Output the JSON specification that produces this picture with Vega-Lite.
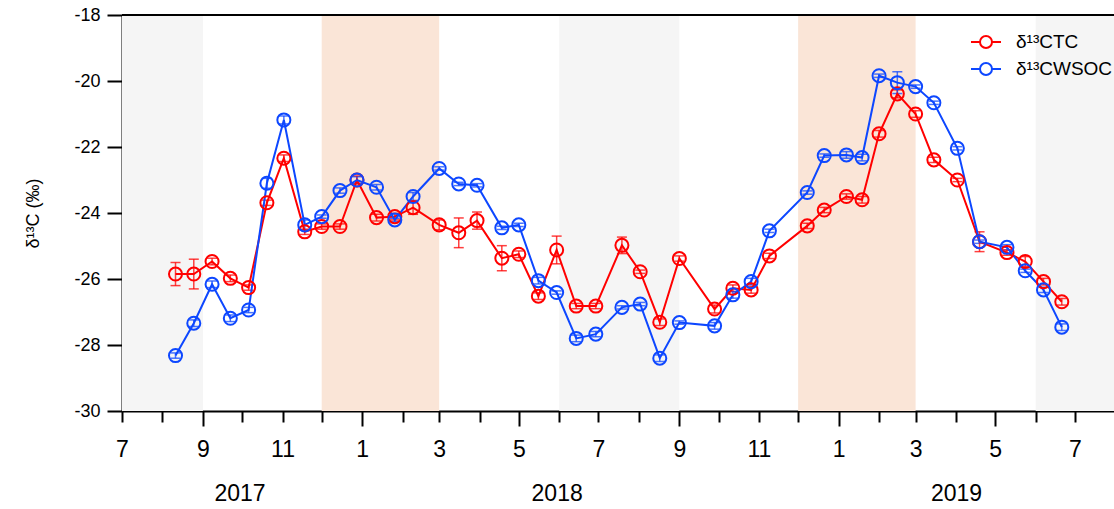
{
  "$schema": "https://vega.github.io/schema/vega-lite/v6.json",
  "width": 992,
  "height": 396,
  "autosize": {"type": "none"},
  "padding": {"left": 122, "top": 15, "right": 0, "bottom": 98},
  "config": {
    "font": "Liberation Sans",
    "view": {"stroke": null},
    "axis": {"domainColor": "black", "tickColor": "black", "labelColor": "black", "titleColor": "black", "grid": false, "domainWidth": 2, "tickWidth": 2}
  },
  "datasets": {
    "bands": [
      {"start": "2017-07-01", "end": "2017-09-01", "season": "summer"},
      {"start": "2017-12-01", "end": "2018-03-01", "season": "winter"},
      {"start": "2018-06-01", "end": "2018-09-01", "season": "summer"},
      {"start": "2018-12-01", "end": "2019-03-01", "season": "winter"},
      {"start": "2019-06-01", "end": "2019-07-31", "season": "summer"}
    ],
    "iso": [
      {"date": "2017-08-11", "series": "TC", "value": -25.85, "err": 0.35},
      {"date": "2017-08-25", "series": "TC", "value": -25.85, "err": 0.45},
      {"date": "2017-09-08", "series": "TC", "value": -25.47, "err": 0.1},
      {"date": "2017-09-22", "series": "TC", "value": -25.98, "err": 0.1},
      {"date": "2017-10-06", "series": "TC", "value": -26.26, "err": 0.08},
      {"date": "2017-10-20", "series": "TC", "value": -23.69, "err": 0.08},
      {"date": "2017-11-02", "series": "TC", "value": -22.34, "err": 0.1},
      {"date": "2017-11-18", "series": "TC", "value": -24.57, "err": 0.08},
      {"date": "2017-12-01", "series": "TC", "value": -24.41, "err": 0.08},
      {"date": "2017-12-15", "series": "TC", "value": -24.41, "err": 0.08},
      {"date": "2017-12-28", "series": "TC", "value": -23.0, "err": 0.12},
      {"date": "2018-01-12", "series": "TC", "value": -24.14, "err": 0.1},
      {"date": "2018-01-26", "series": "TC", "value": -24.11, "err": 0.1},
      {"date": "2018-02-09", "series": "TC", "value": -23.84, "err": 0.2},
      {"date": "2018-03-01", "series": "TC", "value": -24.36, "err": 0.15},
      {"date": "2018-03-16", "series": "TC", "value": -24.6, "err": 0.45},
      {"date": "2018-03-30", "series": "TC", "value": -24.23, "err": 0.26},
      {"date": "2018-04-18", "series": "TC", "value": -25.37, "err": 0.38},
      {"date": "2018-05-01", "series": "TC", "value": -25.25, "err": 0.1},
      {"date": "2018-05-16", "series": "TC", "value": -26.52, "err": 0.1},
      {"date": "2018-05-30", "series": "TC", "value": -25.12, "err": 0.42},
      {"date": "2018-06-14", "series": "TC", "value": -26.82, "err": 0.08},
      {"date": "2018-06-29", "series": "TC", "value": -26.82, "err": 0.08},
      {"date": "2018-07-19", "series": "TC", "value": -24.98, "err": 0.25},
      {"date": "2018-08-02", "series": "TC", "value": -25.78, "err": 0.05},
      {"date": "2018-08-17", "series": "TC", "value": -27.31, "err": 0.1},
      {"date": "2018-09-01", "series": "TC", "value": -25.38, "err": 0.08},
      {"date": "2018-09-28", "series": "TC", "value": -26.91, "err": 0.12},
      {"date": "2018-10-12", "series": "TC", "value": -26.28, "err": 0.1},
      {"date": "2018-10-26", "series": "TC", "value": -26.33, "err": 0.1},
      {"date": "2018-11-09", "series": "TC", "value": -25.3, "err": 0.08},
      {"date": "2018-12-08", "series": "TC", "value": -24.39, "err": 0.08},
      {"date": "2018-12-21", "series": "TC", "value": -23.91, "err": 0.08},
      {"date": "2019-01-07", "series": "TC", "value": -23.5, "err": 0.08},
      {"date": "2019-01-19", "series": "TC", "value": -23.6, "err": 0.1},
      {"date": "2019-02-01", "series": "TC", "value": -21.6, "err": 0.1},
      {"date": "2019-02-15", "series": "TC", "value": -20.39, "err": 0.12},
      {"date": "2019-03-01", "series": "TC", "value": -21.0, "err": 0.1},
      {"date": "2019-03-15", "series": "TC", "value": -22.39, "err": 0.08},
      {"date": "2019-04-02", "series": "TC", "value": -23.0, "err": 0.05},
      {"date": "2019-04-19", "series": "TC", "value": -24.87, "err": 0.3},
      {"date": "2019-05-10", "series": "TC", "value": -25.2, "err": 0.08},
      {"date": "2019-05-24", "series": "TC", "value": -25.47, "err": 0.15},
      {"date": "2019-06-07", "series": "TC", "value": -26.08, "err": 0.1},
      {"date": "2019-06-21", "series": "TC", "value": -26.69, "err": 0.1},
      {"date": "2017-08-11", "series": "WSOC", "value": -28.32, "err": 0.08},
      {"date": "2017-08-25", "series": "WSOC", "value": -27.34, "err": 0.1},
      {"date": "2017-09-08", "series": "WSOC", "value": -26.16, "err": 0.1},
      {"date": "2017-09-22", "series": "WSOC", "value": -27.19, "err": 0.1},
      {"date": "2017-10-06", "series": "WSOC", "value": -26.94, "err": 0.08},
      {"date": "2017-10-20", "series": "WSOC", "value": -23.1, "err": 0.15},
      {"date": "2017-11-02", "series": "WSOC", "value": -21.18, "err": 0.12},
      {"date": "2017-11-18", "series": "WSOC", "value": -24.36, "err": 0.15},
      {"date": "2017-12-01", "series": "WSOC", "value": -24.11, "err": 0.05},
      {"date": "2017-12-15", "series": "WSOC", "value": -23.32, "err": 0.08},
      {"date": "2017-12-28", "series": "WSOC", "value": -23.0, "err": 0.1},
      {"date": "2018-01-12", "series": "WSOC", "value": -23.22, "err": 0.08},
      {"date": "2018-01-26", "series": "WSOC", "value": -24.21, "err": 0.05},
      {"date": "2018-02-09", "series": "WSOC", "value": -23.5, "err": 0.12},
      {"date": "2018-03-01", "series": "WSOC", "value": -22.65, "err": 0.05},
      {"date": "2018-03-16", "series": "WSOC", "value": -23.12, "err": 0.05},
      {"date": "2018-03-30", "series": "WSOC", "value": -23.16, "err": 0.05},
      {"date": "2018-04-18", "series": "WSOC", "value": -24.45, "err": 0.05},
      {"date": "2018-05-01", "series": "WSOC", "value": -24.36, "err": 0.05},
      {"date": "2018-05-16", "series": "WSOC", "value": -26.05, "err": 0.1},
      {"date": "2018-05-30", "series": "WSOC", "value": -26.41, "err": 0.05},
      {"date": "2018-06-14", "series": "WSOC", "value": -27.8, "err": 0.1},
      {"date": "2018-06-29", "series": "WSOC", "value": -27.67, "err": 0.08},
      {"date": "2018-07-19", "series": "WSOC", "value": -26.86, "err": 0.05},
      {"date": "2018-08-02", "series": "WSOC", "value": -26.76, "err": 0.05},
      {"date": "2018-08-17", "series": "WSOC", "value": -28.4, "err": 0.1},
      {"date": "2018-09-01", "series": "WSOC", "value": -27.32, "err": 0.05},
      {"date": "2018-09-28", "series": "WSOC", "value": -27.42, "err": 0.1},
      {"date": "2018-10-12", "series": "WSOC", "value": -26.48, "err": 0.1},
      {"date": "2018-10-26", "series": "WSOC", "value": -26.08, "err": 0.1},
      {"date": "2018-11-09", "series": "WSOC", "value": -24.54, "err": 0.05},
      {"date": "2018-12-08", "series": "WSOC", "value": -23.38, "err": 0.05},
      {"date": "2018-12-21", "series": "WSOC", "value": -22.26, "err": 0.05},
      {"date": "2019-01-07", "series": "WSOC", "value": -22.24, "err": 0.1},
      {"date": "2019-01-19", "series": "WSOC", "value": -22.32, "err": 0.1},
      {"date": "2019-02-01", "series": "WSOC", "value": -19.84, "err": 0.05},
      {"date": "2019-02-15", "series": "WSOC", "value": -20.05, "err": 0.33},
      {"date": "2019-03-01", "series": "WSOC", "value": -20.17, "err": 0.05},
      {"date": "2019-03-15", "series": "WSOC", "value": -20.66, "err": 0.05},
      {"date": "2019-04-02", "series": "WSOC", "value": -22.04, "err": 0.05},
      {"date": "2019-04-19", "series": "WSOC", "value": -24.87, "err": 0.05},
      {"date": "2019-05-10", "series": "WSOC", "value": -25.04, "err": 0.08},
      {"date": "2019-05-24", "series": "WSOC", "value": -25.75, "err": 0.05},
      {"date": "2019-06-07", "series": "WSOC", "value": -26.33, "err": 0.08},
      {"date": "2019-06-21", "series": "WSOC", "value": -27.46, "err": 0.1}
    ]
  },
  "resolve": {"axis": {"x": "independent"}},
  "layer": [
    {
      "data": {"name": "bands"},
      "transform": [{"filter": "datum.season == 'summer'"}],
      "mark": {"type": "rect", "color": "#f5f5f5", "clip": true},
      "encoding": {
        "x": {"field": "start", "type": "temporal",
          "scale": {"type": "utc", "domain": [{"year": 2017, "month": 7, "date": 1, "utc": true}, {"year": 2019, "month": 7, "date": 31, "utc": true}]},
          "axis": {"orient": "bottom", "title": null, "values": [{"year": 2017, "month": 9, "date": 29, "utc": true}, {"year": 2018, "month": 5, "date": 30, "utc": true}, {"year": 2019, "month": 4, "date": 1, "utc": true}],
            "labelExpr": "'' + utcyear(datum.value)", "ticks": false, "domain": false, "labelPadding": 71, "labelFontSize": 23, "labelFlush": false, "labelOverlap": false}},
        "x2": {"field": "end"}
      }
    },
    {
      "data": {"name": "bands"},
      "transform": [{"filter": "datum.season == 'winter'"}],
      "mark": {"type": "rect", "color": "#fae5d7", "clip": true},
      "encoding": {
        "x": {"field": "start", "type": "temporal",
          "scale": {"type": "utc", "domain": [{"year": 2017, "month": 7, "date": 1, "utc": true}, {"year": 2019, "month": 7, "date": 31, "utc": true}]},
          "axis": null},
        "x2": {"field": "end"}
      }
    },
    {
      "data": {"name": "iso"},
      "mark": {"type": "rule", "color": "black", "strokeWidth": 2},
      "encoding": {
        "y": {"datum": -18, "type": "quantitative", "title": "δ¹³C (‰)",
          "scale": {"domain": [-30, -18], "nice": false, "zero": false},
          "axis": {"values": [-30, -28, -26, -24, -22, -20, -18], "labelExpr": "'' + datum.value", "tickSize": 15, "labelFontSize": 18, "labelPadding": 7, "title": "δ¹³C (‰)", "titleFontSize": 18, "titleFontWeight": "normal", "titlePadding": 31}}
      }
    },
    {
      "data": {"name": "iso"},
      "mark": {"type": "errorbar", "ticks": true, "size": 10, "thickness": 1.5, "opacity": 0.75},
      "encoding": {
        "x": {"field": "date", "type": "temporal",
          "scale": {"type": "utc", "domain": [{"year": 2017, "month": 7, "date": 1, "utc": true}, {"year": 2019, "month": 7, "date": 31, "utc": true}]},
          "axis": null},
        "y": {"field": "value", "type": "quantitative", "title": "δ¹³C (‰)", "scale": {"domain": [-30, -18], "nice": false, "zero": false}},
        "yError": {"field": "err"},
        "color": {"field": "series", "type": "nominal", "scale": {"domain": ["TC", "WSOC"], "range": ["#ff0000", "#0d47ff"]},
          "legend": {"orient": "none", "legendX": 848, "legendY": 11, "title": null, "padding": 0,
            "symbolType": "M-1,0L-0.4,0M0.4,0L1,0M0.4,0A0.4,0.4,0,1,1,-0.4,0A0.4,0.4,0,1,1,0.4,0",
            "symbolSize": 900, "symbolStrokeWidth": 2, "symbolFillColor": "transparent", "symbolOpacity": 1,
            "labelFontSize": 19, "labelOffset": 14, "rowPadding": 1, "labelColor": "black",
            "labelExpr": "'δ¹³C' + datum.label",
            "encode": {"symbols": {"update": {"fill": {"value": "transparent"}, "fillOpacity": {"value": 0}, "shape": {"value": "M-1,0L-0.4,0M0.4,0L1,0M0.4,0A0.4,0.4,0,1,1,-0.4,0A0.4,0.4,0,1,1,0.4,0"}, "size": {"value": 900}, "strokeWidth": {"value": 2}, "opacity": {"value": 1}}}}}}
      }
    },
    {
      "data": {"name": "iso"},
      "mark": {"type": "line", "strokeWidth": 2},
      "encoding": {
        "x": {"field": "date", "type": "temporal",
          "scale": {"type": "utc", "domain": [{"year": 2017, "month": 7, "date": 1, "utc": true}, {"year": 2019, "month": 7, "date": 31, "utc": true}]},
          "axis": null},
        "y": {"field": "value", "type": "quantitative", "title": "δ¹³C (‰)", "scale": {"domain": [-30, -18], "nice": false, "zero": false}},
        "color": {"field": "series", "type": "nominal", "scale": {"domain": ["TC", "WSOC"], "range": ["#ff0000", "#0d47ff"]},
          "legend": {"orient": "none", "legendX": 848, "legendY": 11, "title": null, "padding": 0,
            "symbolType": "M-1,0L-0.4,0M0.4,0L1,0M0.4,0A0.4,0.4,0,1,1,-0.4,0A0.4,0.4,0,1,1,0.4,0",
            "symbolSize": 900, "symbolStrokeWidth": 2, "symbolFillColor": "transparent", "symbolOpacity": 1,
            "labelFontSize": 19, "labelOffset": 14, "rowPadding": 1, "labelColor": "black",
            "labelExpr": "'δ¹³C' + datum.label",
            "encode": {"symbols": {"update": {"fill": {"value": "transparent"}, "fillOpacity": {"value": 0}, "shape": {"value": "M-1,0L-0.4,0M0.4,0L1,0M0.4,0A0.4,0.4,0,1,1,-0.4,0A0.4,0.4,0,1,1,0.4,0"}, "size": {"value": 900}, "strokeWidth": {"value": 2}, "opacity": {"value": 1}}}}}}
      }
    },
    {
      "data": {"name": "iso"},
      "mark": {"type": "point", "filled": false, "size": 170, "strokeWidth": 2, "opacity": 1},
      "encoding": {
        "x": {"field": "date", "type": "temporal",
          "scale": {"type": "utc", "domain": [{"year": 2017, "month": 7, "date": 1, "utc": true}, {"year": 2019, "month": 7, "date": 31, "utc": true}]},
          "axis": {"orient": "bottom", "title": null, "tickCount": {"interval": "month", "step": 1},
            "labelExpr": "utcmonth(datum.value) % 2 == 0 ? '' + (utcmonth(datum.value) + 1) : ''",
            "tickSize": {"condition": {"test": "utcmonth(datum.value) % 4 == 0", "value": 15}, "value": 11},
            "labelPadding": {"condition": {"test": "utcmonth(datum.value) % 4 == 0", "value": 12}, "value": 16},
            "labelFontSize": 23, "labelFlush": false, "labelOverlap": false}},
        "y": {"field": "value", "type": "quantitative", "title": "δ¹³C (‰)", "scale": {"domain": [-30, -18], "nice": false, "zero": false}},
        "color": {"field": "series", "type": "nominal", "scale": {"domain": ["TC", "WSOC"], "range": ["#ff0000", "#0d47ff"]},
          "legend": {"orient": "none", "legendX": 848, "legendY": 11, "title": null, "padding": 0,
            "symbolType": "M-1,0L-0.4,0M0.4,0L1,0M0.4,0A0.4,0.4,0,1,1,-0.4,0A0.4,0.4,0,1,1,0.4,0",
            "symbolSize": 900, "symbolStrokeWidth": 2, "symbolFillColor": "transparent", "symbolOpacity": 1,
            "labelFontSize": 19, "labelOffset": 14, "rowPadding": 1, "labelColor": "black",
            "labelExpr": "'δ¹³C' + datum.label",
            "encode": {"symbols": {"update": {"fill": {"value": "transparent"}, "fillOpacity": {"value": 0}, "shape": {"value": "M-1,0L-0.4,0M0.4,0L1,0M0.4,0A0.4,0.4,0,1,1,-0.4,0A0.4,0.4,0,1,1,0.4,0"}, "size": {"value": 900}, "strokeWidth": {"value": 2}, "opacity": {"value": 1}}}}}}
      }
    }
  ]
}
